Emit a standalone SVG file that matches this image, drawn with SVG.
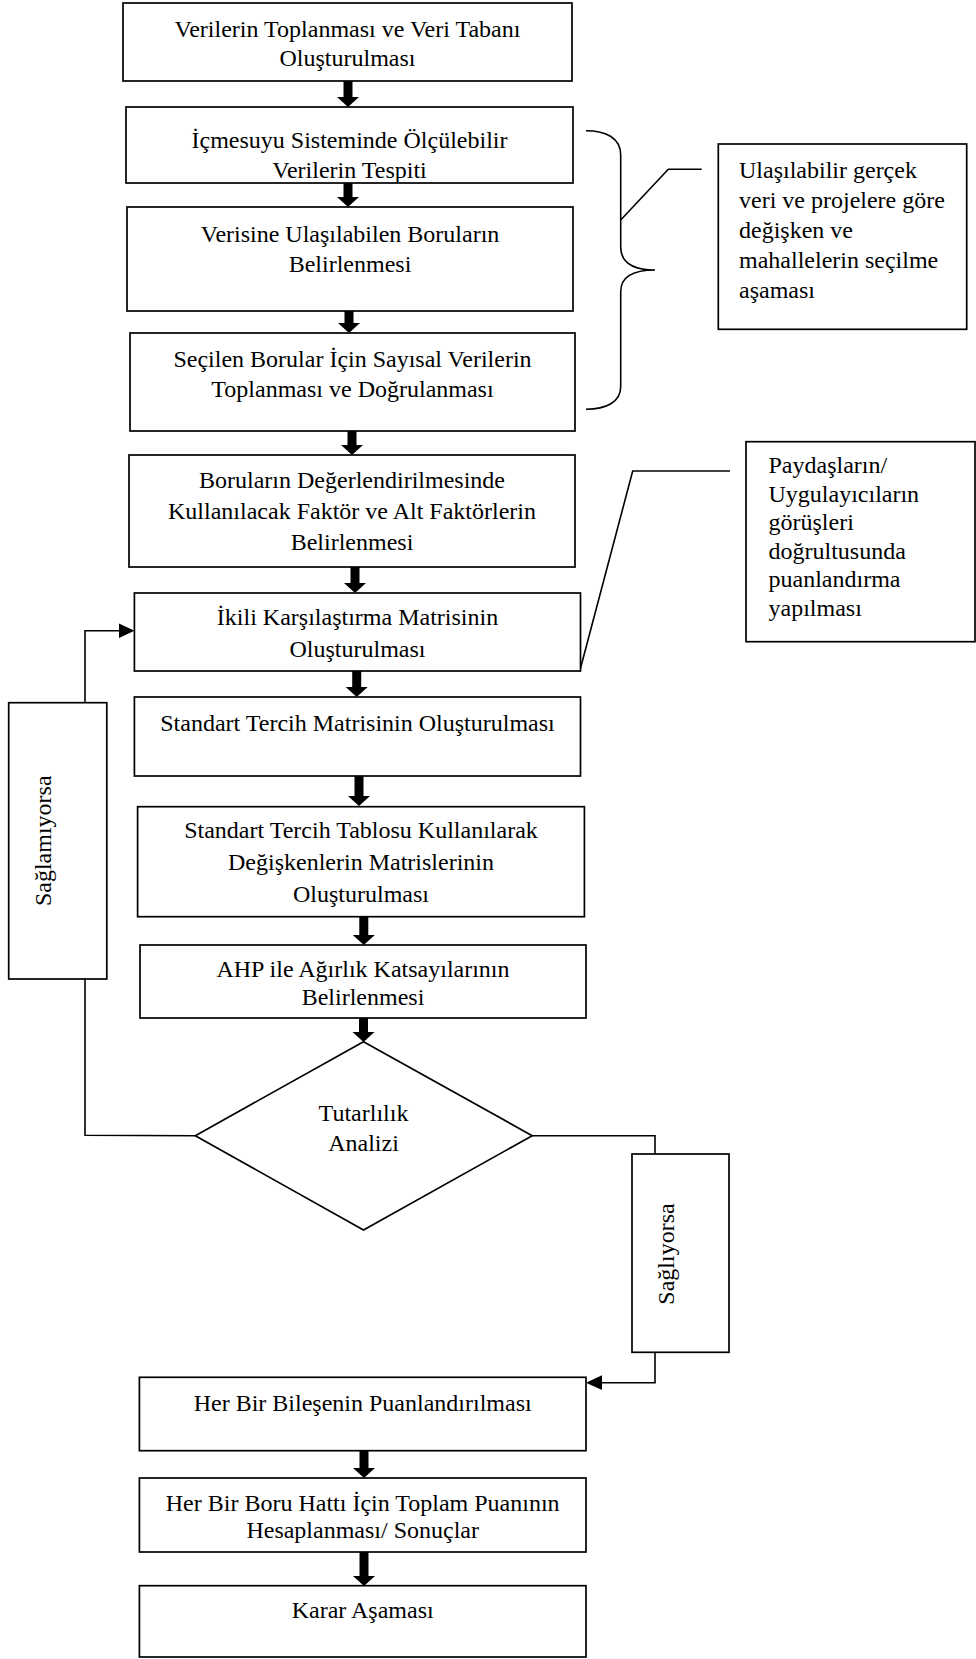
<svg xmlns="http://www.w3.org/2000/svg" width="976" height="1659" viewBox="0 0 976 1659">
<style>
.box{fill:#fff;stroke:#000;stroke-width:1.7}
.ln{fill:none;stroke:#000;stroke-width:1.6}
.t{font-family:"Liberation Serif","Times New Roman",serif;font-size:24px;fill:#000}
.c{text-anchor:middle}
.ah{fill:#000;stroke:none}
</style>
<defs>
<clipPath id="cp2"><rect x="126" y="107" width="447" height="75"/></clipPath>
</defs>
<rect width="976" height="1659" fill="#fff"/>
<g id="connectors">
<polygon class="ah" points="343.5,81 352.5,81 352.5,97 359,97 348,107 337,97 343.5,97"/>
<polygon class="ah" points="343.5,183 352.5,183 352.5,197 359,197 348,207 337,197 343.5,197"/>
<polygon class="ah" points="344.5,311 353.5,311 353.5,323 360,323 349,333 338,323 344.5,323"/>
<polygon class="ah" points="347.5,431 356.5,431 356.5,445 363,445 352,455 341,445 347.5,445"/>
<polygon class="ah" points="350.5,567 359.5,567 359.5,583 366,583 355,593 344,583 350.5,583"/>
<polygon class="ah" points="352.2,671 361.2,671 361.2,687 367.7,687 356.7,697 345.7,687 352.2,687"/>
<polygon class="ah" points="354.5,776 363.5,776 363.5,796 370,796 359,806 348,796 354.5,796"/>
<polygon class="ah" points="359.3,917 368.3,917 368.3,935 374.8,935 363.8,945 352.8,935 359.3,935"/>
<polygon class="ah" points="359,1018 368,1018 368,1032 374.5,1032 363.5,1042 352.5,1032 359,1032"/>
<polygon class="ah" points="359.5,1451 368.5,1451 368.5,1468 375,1468 364,1478 353,1468 359.5,1468"/>
<polygon class="ah" points="359.5,1552 368.5,1552 368.5,1576 375,1576 364,1586 353,1576 359.5,1576"/>
<path class="ln" d="M195.3,1135.7 L85,1135.2 L85,630.7 L120,630.7"/>
<polygon class="ah" points="134.4,630.7 119,623.5 119,637.9"/>
<path class="ln" d="M532.2,1135.7 L655,1135.7 L655,1382.7 L601,1382.7"/>
<polygon class="ah" points="586,1382.7 602,1375.3 602,1390.1"/>
<path class="ln" d="M586,130.7 C606,130.7 620.7,138 620.7,155 L620.7,246.7 C620.7,262 632,270 655,270 C632,270 620.7,278 620.7,291.7 L620.7,386.7 C620.7,402 606,409.3 586,409.3"/>
<path class="ln" d="M620.7,220 L668.3,169.3 L701.7,169.3"/>
<path class="ln" d="M580.5,668.3 L632.7,471 L730,471"/>
</g>
<g id="n1">
<rect class="box" x="123" y="3" width="449" height="78"/>
<text class="t c" x="347.5" y="37">Verilerin Toplanması ve Veri Tabanı</text>
<text class="t c" x="347.5" y="66">Oluşturulması</text>
</g>
<g id="n2">
<rect class="box" x="126" y="107" width="447" height="76"/>
<g clip-path="url(#cp2)">
<text class="t c" x="349.5" y="148">İçmesuyu Sisteminde Ölçülebilir</text>
<text class="t c" x="349.5" y="177.5">Verilerin Tespiti</text>
</g>
</g>
<g id="n3">
<rect class="box" x="127" y="207" width="446" height="104"/>
<text class="t c" x="350" y="241.7">Verisine Ulaşılabilen Boruların</text>
<text class="t c" x="350" y="271.7">Belirlenmesi</text>
</g>
<g id="n4">
<rect class="box" x="130" y="333" width="445" height="98"/>
<text class="t c" x="352.5" y="366.7">Seçilen Borular İçin Sayısal Verilerin</text>
<text class="t c" x="352.5" y="396.7">Toplanması ve Doğrulanması</text>
</g>
<g id="n5">
<rect class="box" x="129" y="455" width="446" height="112"/>
<text class="t c" x="352" y="488">Boruların Değerlendirilmesinde</text>
<text class="t c" x="352" y="519">Kullanılacak Faktör ve Alt Faktörlerin</text>
<text class="t c" x="352" y="550">Belirlenmesi</text>
</g>
<g id="n6">
<rect class="box" x="134.4" y="593" width="446.1" height="78"/>
<text class="t c" x="357.5" y="625">İkili Karşılaştırma Matrisinin</text>
<text class="t c" x="357.5" y="657">Oluşturulması</text>
</g>
<g id="n7">
<rect class="box" x="134.4" y="697" width="446.1" height="79"/>
<text class="t c" x="357.5" y="731">Standart Tercih Matrisinin Oluşturulması</text>
</g>
<g id="n8">
<rect class="box" x="137.6" y="806.7" width="446.8" height="110"/>
<text class="t c" x="361" y="838">Standart Tercih Tablosu Kullanılarak</text>
<text class="t c" x="361" y="870">Değişkenlerin Matrislerinin</text>
<text class="t c" x="361" y="902">Oluşturulması</text>
</g>
<g id="n9">
<rect class="box" x="140" y="945" width="446" height="73"/>
<text class="t c" x="363" y="976.5">AHP ile Ağırlık Katsayılarının</text>
<text class="t c" x="363" y="1005">Belirlenmesi</text>
</g>
<g id="n10">
<polygon class="box" points="363.5,1041.7 532.2,1135.7 363.5,1230 195.3,1135.7"/>
<text class="t c" x="363.5" y="1120.7">Tutarlılık</text>
<text class="t c" x="363.5" y="1150.7">Analizi</text>
</g>
<g id="n11">
<rect class="box" x="8.7" y="702.7" width="98.1" height="276.3"/>
<text class="t c" transform="translate(51,840.8) rotate(-90)">Sağlamıyorsa</text>
</g>
<g id="n12">
<rect class="box" x="632" y="1154" width="97" height="198.3"/>
<text class="t c" transform="translate(674,1254) rotate(-90)">Sağlıyorsa</text>
</g>
<g id="n13">
<rect class="box" x="139.4" y="1377.3" width="446.6" height="73.4"/>
<text class="t c" x="362.7" y="1410.5">Her Bir Bileşenin Puanlandırılması</text>
</g>
<g id="n14">
<rect class="box" x="139.4" y="1478" width="446.6" height="74"/>
<text class="t c" x="362.7" y="1510.7">Her Bir Boru Hattı İçin Toplam Puanının</text>
<text class="t c" x="362.7" y="1538">Hesaplanması/ Sonuçlar</text>
</g>
<g id="n15">
<rect class="box" x="139.4" y="1585.7" width="446.6" height="71.3"/>
<text class="t c" x="362.7" y="1618">Karar Aşaması</text>
</g>
<g id="n16">
<rect class="box" x="718.3" y="144" width="248.4" height="185.3"/>
<text class="t" x="739" y="178.3">Ulaşılabilir gerçek</text>
<text class="t" x="739" y="208">veri ve projelere göre</text>
<text class="t" x="739" y="238">değişken ve</text>
<text class="t" x="739" y="268">mahallelerin seçilme</text>
<text class="t" x="739" y="297.5">aşaması</text>
</g>
<g id="n17">
<rect class="box" x="746" y="441.7" width="229" height="200"/>
<text class="t" x="768.5" y="473">Paydaşların/</text>
<text class="t" x="768.5" y="501.5">Uygulayıcıların</text>
<text class="t" x="768.5" y="530">görüşleri</text>
<text class="t" x="768.5" y="558.5">doğrultusunda</text>
<text class="t" x="768.5" y="587">puanlandırma</text>
<text class="t" x="768.5" y="615.5">yapılması</text>
</g>
</svg>
